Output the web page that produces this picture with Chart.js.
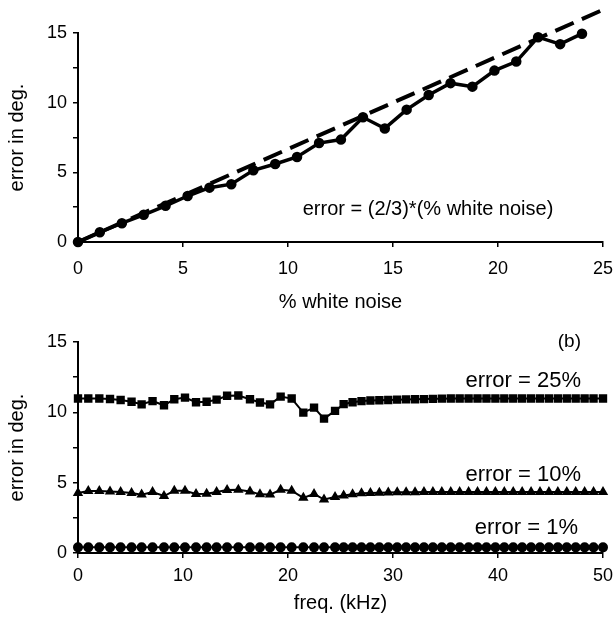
<!DOCTYPE html>
<html>
<head>
<meta charset="utf-8">
<script src="https://cdn.jsdelivr.net/npm/chart.js@4.4.1/dist/chart.umd.min.js"></script>
<style>
  html, body { margin: 0; padding: 0; background: #fff; }
  #wrap { position: relative; width: 613px; height: 622px; }
  #top { position: absolute; left: 0; top: 0; }
  #bot { position: absolute; left: 0; top: 320px; }
</style>
</head>
<body>
<div id="wrap">
  <canvas id="top" width="613" height="320"></canvas>
  <canvas id="bot" width="613" height="302"></canvas>
</div>
<script>
// (a) error vs % white noise
const noisePct = [0, 1.04, 2.09, 3.13, 4.17, 5.22, 6.26, 7.3, 8.35, 9.39, 10.43, 11.48,
  12.52, 13.57, 14.61, 15.65, 16.7, 17.74, 18.78, 19.83, 20.87, 21.91, 22.96, 24.0];
const noiseError = [0, 0.7, 1.35, 1.95, 2.6, 3.3, 3.9, 4.15, 5.15, 5.6, 6.1, 7.1,
  7.35, 8.95, 8.15, 9.5, 10.55, 11.4, 11.15, 12.3, 12.95, 14.7, 14.2, 14.95];
// dashed reference line: error = (2/3)*(% white noise)
const theoryPct = [0, 25];
const theoryError = [0, 16.67];

// (b) error vs frequency
const freqKHz = [0, 0.98, 2.03, 3.05, 4.06, 5.1, 6.06, 7.1, 8.19, 9.17, 10.19, 11.24,
  12.25, 13.2, 14.2, 15.27, 16.38, 17.33, 18.29, 19.3, 20.35, 21.46, 22.48, 23.43, 24.48,
  25.3, 26.15, 27.0, 27.85, 28.7, 29.55, 30.4, 31.25, 32.1, 32.95, 33.8, 34.65, 35.5,
  36.35, 37.2, 38.05, 38.9, 39.75, 40.6, 41.45, 42.3, 43.15, 44.0, 44.85, 45.7, 46.55,
  47.4, 48.25, 49.1, 50.0];
const err25 = [10.98, 10.98, 10.98, 10.95, 10.88, 10.75, 10.57, 10.8, 10.5, 10.93, 11.05, 10.72,
  10.75, 10.9, 11.18, 11.2, 10.93, 10.7, 10.57, 11.12, 10.98, 9.98, 10.33, 9.55, 10.1,
  10.58, 10.72, 10.8, 10.84, 10.86, 10.88, 10.9, 10.92, 10.93, 10.94, 10.96, 10.97, 10.98,
  10.98, 10.98, 10.98, 10.98, 10.98, 10.98, 10.98, 10.98, 10.98, 10.98, 10.98, 10.98, 10.98,
  10.98, 10.98, 10.98, 10.98];
const err10 = [4.26, 4.4, 4.4, 4.37, 4.33, 4.27, 4.15, 4.33, 4.05, 4.42, 4.42, 4.2,
  4.22, 4.33, 4.48, 4.5, 4.38, 4.17, 4.15, 4.5, 4.43, 3.92, 4.2, 3.8, 3.98,
  4.08, 4.18, 4.24, 4.27, 4.29, 4.3, 4.31, 4.32, 4.32, 4.33, 4.33, 4.33, 4.33,
  4.33, 4.33, 4.33, 4.33, 4.33, 4.33, 4.33, 4.33, 4.33, 4.33, 4.33, 4.33, 4.33,
  4.33, 4.33, 4.33, 4.33];
const err1 = [0.4, 0.4, 0.4, 0.4, 0.4, 0.4, 0.4, 0.4, 0.4, 0.4, 0.4, 0.4,
  0.4, 0.4, 0.4, 0.4, 0.4, 0.4, 0.4, 0.4, 0.4, 0.4, 0.4, 0.4, 0.4,
  0.4, 0.4, 0.4, 0.4, 0.4, 0.4, 0.4, 0.4, 0.4, 0.4, 0.4, 0.4, 0.4,
  0.4, 0.4, 0.4, 0.4, 0.4, 0.4, 0.4, 0.4, 0.4, 0.4, 0.4, 0.4, 0.4,
  0.4, 0.4, 0.4, 0.4];

const yTicks = [0, 5, 10, 15];

const FONT = "'Liberation Sans', Arial, Helvetica, sans-serif";
Chart.defaults.font.family = FONT;
Chart.defaults.color = '#000';

function pts(xs, ys) {
  return xs.map((x, i) => ({ x: x, y: ys[i] }));
}

// draws free text notes at data coordinates
const notesPlugin = {
  id: 'notes',
  afterDatasetsDraw(chart, args, opts) {
    const ctx = chart.ctx;
    const xs = chart.scales.x, ys = chart.scales.y;
    ctx.save();
    ctx.fillStyle = '#000';
    ctx.textBaseline = 'middle';
    (opts.items || []).forEach(n => {
      ctx.font = n.size + 'px ' + FONT;
      ctx.textAlign = n.align || 'center';
      ctx.fillText(n.text, xs.getPixelForValue(n.x), ys.getPixelForValue(n.y));
    });
    ctx.restore();
  }
};

function axisX(max, step, title, height, tickPad, titlePad) {
  return {
    type: 'linear', min: 0, max: max,
    ticks: { stepSize: step, padding: tickPad, font: { size: 18 } },
    grid: { drawOnChartArea: false, drawTicks: true, tickLength: 5, color: '#000', lineWidth: 1.5 },
    border: { display: true, color: '#000', width: 2 },
    title: { display: true, text: title, font: { size: 20 }, padding: { top: 0, bottom: titlePad } },
    afterFit(s) {
      s.height = height;
      s.paddingLeft = 0;
      s.paddingRight = 0;
    }
  };
}

function axisY() {
  return {
    min: 0, max: 15,
    ticks: {
      stepSize: 2.5, padding: 6, font: { size: 18 },
      callback: v => yTicks.includes(v) ? v : ''
    },
    grid: { drawOnChartArea: false, drawTicks: true, tickLength: 5, color: '#000', lineWidth: 1.5 },
    border: { display: true, color: '#000', width: 2 },
    title: { display: true, text: 'error in deg.', font: { size: 20 }, padding: { top: 5, bottom: 0 } },
    afterFit(s) { s.width = 78; }
  };
}

new Chart(document.getElementById('top'), {
  type: 'scatter',
  data: {
    datasets: [
      {
        data: pts(theoryPct, theoryError), showLine: true, clip: false,
        borderColor: '#000', borderWidth: 4, borderDash: [20, 9], pointRadius: 0
      },
      {
        data: pts(noisePct, noiseError), showLine: true, clip: false,
        borderColor: '#000', borderWidth: 3.5, pointRadius: 3.5,
        pointBackgroundColor: '#000', pointBorderColor: '#000'
      }
    ]
  },
  options: {
    responsive: false, animation: false,
    layout: { padding: { top: 33, right: 10, left: 0, bottom: 0 } },
    scales: { x: axisX(25, 5, '% white noise', 78, 11, 6), y: axisY() },
    plugins: {
      legend: { display: false }, tooltip: { enabled: false },
      notes: { items: [{ text: 'error = (2/3)*(% white noise)', x: 10.7, y: 2.36, size: 20, align: 'left' }] }
    }
  },
  plugins: [notesPlugin]
});

new Chart(document.getElementById('bot'), {
  type: 'scatter',
  data: {
    datasets: [
      {
        data: pts(freqKHz, err25), showLine: true, clip: false,
        borderColor: '#000', borderWidth: 2, pointStyle: 'rect', pointRadius: 4.5,
        pointBackgroundColor: '#000', pointBorderColor: '#000'
      },
      {
        data: pts(freqKHz, err10), showLine: true, clip: false,
        borderColor: '#000', borderWidth: 2, pointStyle: 'triangle', pointRadius: 4,
        pointBackgroundColor: '#000', pointBorderColor: '#000'
      },
      {
        data: pts(freqKHz, err1), showLine: true, clip: false,
        borderColor: '#000', borderWidth: 2, pointStyle: 'circle', pointRadius: 4,
        pointBackgroundColor: '#000', pointBorderColor: '#000'
      }
    ]
  },
  options: {
    responsive: false, animation: false,
    layout: { padding: { top: 22, right: 10, left: 0, bottom: 0 } },
    scales: { x: axisX(50, 10, 'freq. (kHz)', 69, 7, 7), y: axisY() },
    plugins: {
      legend: { display: false }, tooltip: { enabled: false },
      notes: {
        items: [
          { text: '(b)', x: 46.8, y: 15.0, size: 19 },
          { text: 'error = 25%', x: 42.4, y: 12.24, size: 22 },
          { text: 'error = 10%', x: 42.4, y: 5.57, size: 22 },
          { text: 'error = 1%', x: 42.7, y: 1.79, size: 22 }
        ]
      }
    }
  },
  plugins: [notesPlugin]
});
</script>
</body>
</html>
